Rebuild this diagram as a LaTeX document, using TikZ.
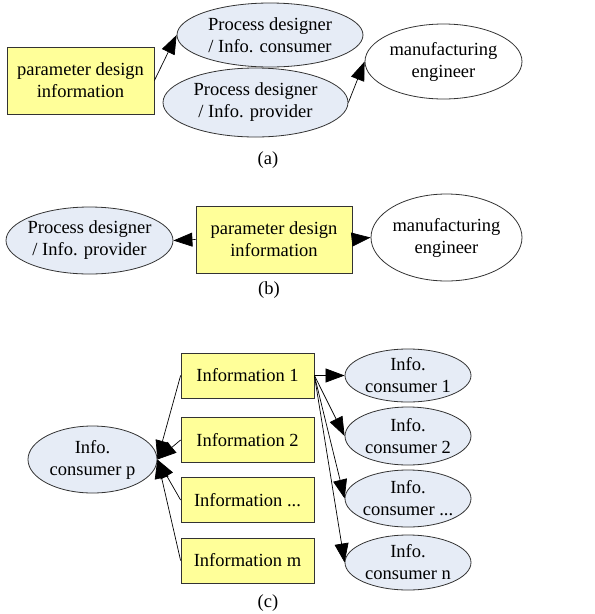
\documentclass[tikz,border=0pt]{standalone}
\usepackage{fontspec}
\setmainfont{Liberation Serif}
\usetikzlibrary{shapes.geometric}
\usetikzlibrary{arrows.meta}
\definecolor{boxyellow}{RGB}{255,255,153}
\definecolor{ellblue}{RGB}{230,236,246}
\newcommand{\infodots}{...}

\begin{document}
\begin{tikzpicture}[x=1pt, y=-1pt,
        every node/.style={font=\fontsize{18.5}{22}\selectfont, align=center},
        infobox/.style={draw=black!80, line width=0.8pt, fill=boxyellow, rectangle, inner sep=2pt},
        person/.style={draw=black!80, line width=0.8pt, ellipse, inner sep=-30pt},
        consumer/.style={person, fill=ellblue},
        arr/.style={line width=0.7pt, -{Triangle[length=19pt, width=14pt]}}]
        \useasboundingbox (0,0) rectangle (595,614);

        % (a) provider and consumer are one person
        \node[infobox, minimum width=147pt, minimum height=67pt] (pdiA) at (80.5,80.5) {parameter design\\information};
        \node[consumer, minimum width=186pt, minimum height=64pt] (consA) at (270,35) {Process designer\\/ Info. consumer};
        \node[consumer, minimum width=185pt, minimum height=69pt] (provA) at (255.5,102.5) {Process designer\\/ Info. provider};
        \node[person, minimum width=157pt, minimum height=75pt] (manufA) at (443.5,61.5) {manufacturing\\engineer};
        \draw[arr] (pdiA.east) -- (consA.west);
        \draw[arr] (provA.east) -- (manufA.west);
        \node (capA) at (268,160) {(a)};

        % (b) one information, two persons
        \node[consumer, minimum width=167pt, minimum height=67pt] (provB) at (89.5,240.5) {Process designer\\/ Info. provider};
        \node[infobox, minimum width=156pt, minimum height=67pt] (pdiB) at (274,239.5) {parameter design\\information};
        \node[person, minimum width=151pt, minimum height=87pt] (manufB) at (446.5,237.5) {manufacturing\\engineer};
        \draw[arr] (pdiB.west) -- (provB.east);
        \draw[arr] (pdiB.east) -- (manufB.west);
        \node (capB) at (269,290) {(b)};

        % (c) many informations, many consumers
        \node[consumer, minimum width=129pt, minimum height=67pt] (consP) at (92.5,459.5) {Info.\\consumer p};
        \foreach \i/\y/\t in {1/375.5/1, 2/440/2, 3/500/\infodots, 4/560.5/m} {
            \node[infobox, minimum width=133pt, minimum height=45pt] (info\i) at (247.5,\y) {Information \t};
            \draw[arr] (info\i.west) -- (consP.east);
        }
        \foreach \i/\y/\h/\t in {1/375.5/53/1, 2/436/58/2, 3/498.5/57/\infodots, 4/562.5/55/n} {
            \node[consumer, minimum width=126pt, minimum height=\h pt] (cons\i) at (408,\y) {Info.\\consumer \t};
            \draw[arr] (info1.east) -- (cons\i.west);
        }
        \node (capC) at (268,603) {(c)};
\end{tikzpicture}
\end{document}
